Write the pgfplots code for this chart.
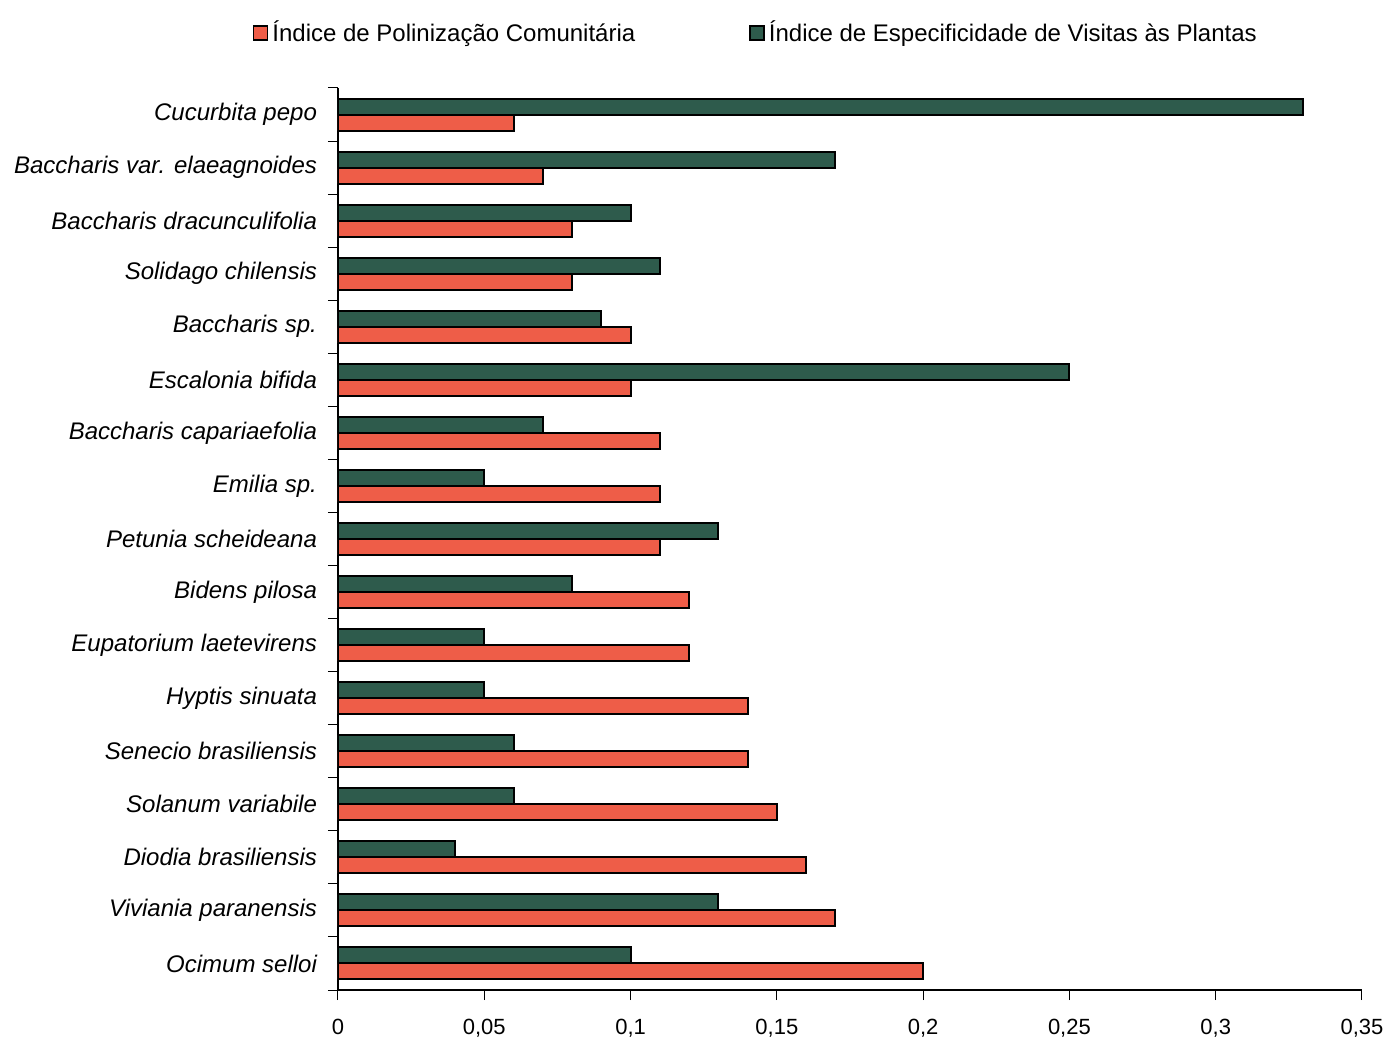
\documentclass[border=0pt]{standalone}
\usepackage{fontspec}
\setmainfont{Liberation Sans}
\usepackage{pgfplots}
\pgfplotsset{compat=1.18}

\definecolor{polred}{HTML}{EE5D48}
\definecolor{espgreen}{HTML}{2E5B4C}

% values: species listed top to bottom
\pgfplotstableread{
pos pol esp
1  0.06 0.33
2  0.07 0.17
3  0.08 0.10
4  0.08 0.11
5  0.10 0.09
6  0.10 0.25
7  0.11 0.07
8  0.11 0.05
9  0.11 0.13
10 0.12 0.08
11 0.12 0.05
12 0.14 0.05
13 0.14 0.06
14 0.15 0.06
15 0.16 0.04
16 0.17 0.13
17 0.20 0.10
}\datatable

\begin{document}
\begin{tikzpicture}
\path[use as bounding box] (-169pt,-23.5pt) rectangle (524.5pt,495pt);
\begin{axis}[
  at={(0,0)}, anchor=south west,
  scale only axis,
  width=512pt, height=451pt,
  xbar, bar width=8pt,
  xmin=0, xmax=0.35,
  ymin=0.5, ymax=17.5,
  y dir=reverse,
  axis lines*=left,
  axis line style={line width=0.6pt},
  xtick={0,0.05,0.1,0.15,0.2,0.25,0.3,0.35},
  xticklabels={0,{0,05},{0,1},{0,15},{0,2},{0,25},{0,3},{0,35}},
  ytick={1,...,17},
  major y tick style={draw=none},
  minor ytick={0.5,1.5,...,17.5},
  minor tick length=5pt,
  major tick length=5pt,
  tick align=outside,
  tick style={black, line width=0.5pt},
  yticklabels={Cucurbita pepo, Baccharis var. elaeagnoides, Baccharis dracunculifolia,
    Solidago chilensis, Baccharis sp., Escalonia bifida, Baccharis capariaefolia,
    Emilia sp., Petunia scheideana, Bidens pilosa, Eupatorium laetevirens,
    Hyptis sinuata, Senecio brasiliensis, Solanum variabile, Diodia brasiliensis,
    Viviania paranensis, Ocimum selloi},
  yticklabel style={font=\fontsize{12}{14}\selectfont\itshape, xshift=-2pt},
  xticklabel style={font=\fontsize{11}{13}\selectfont, yshift=-6pt},
  legend columns=2,
  legend style={draw=none, fill=none, at={(0.409,1.061)}, anchor=center,
    font=\fontsize{12}{14}\selectfont,
    /tikz/every even column/.append style={column sep=55pt}},
  legend image code/.code={\draw[#1, draw=black, line width=0.8pt] (0pt,-3.5pt) rectangle (7pt,3.5pt);},
]
\addplot[fill=polred, draw=black, line width=1pt, bar shift=-4pt]
  table[x=pol, y=pos] {\datatable};
\addplot[fill=espgreen, draw=black, line width=1pt, bar shift=4pt]
  table[x=esp, y=pos] {\datatable};
\legend{Índice de Polinização Comunitária, Índice de Especificidade de Visitas às Plantas}
\end{axis}
\end{tikzpicture}
\end{document}
